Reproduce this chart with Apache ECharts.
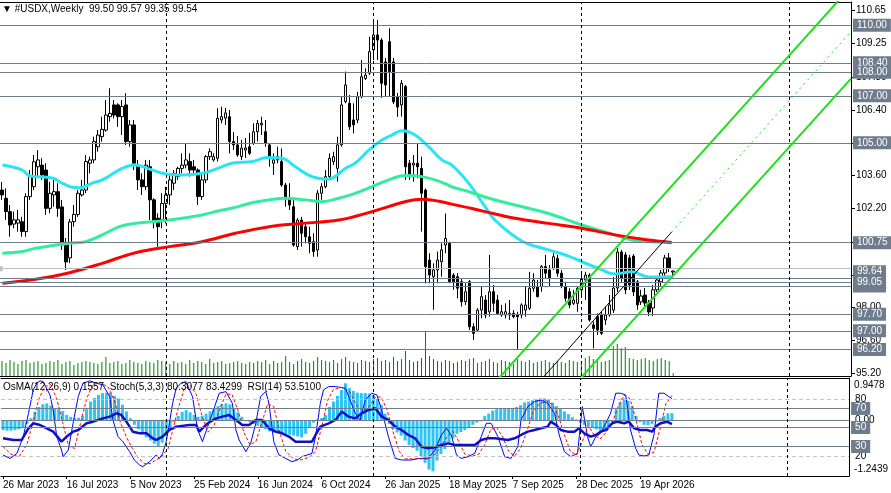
<!DOCTYPE html>
<html>
<head>
<meta charset="utf-8">
<title>#USDX Weekly</title>
<script src="https://cdn.jsdelivr.net/npm/echarts@6/dist/echarts.min.js"></script>
<style>
html, body { margin: 0; padding: 0; background: #fff; }
#chart { width: 891px; height: 493px; }
</style>
</head>
<body>
<div id="chart"></div>
<script>
// weekly bars, index 0 = week of 26 Mar 2023
const symbolName = '#USDX,Weekly';
const lastBar = ['99.50', '99.57', '99.35', '99.54'];
const oscTitle = 'OsMA(12,26,9) 0.1557  Stoch(5,3,3) 80.3077 83.4299  RSI(14) 53.5100';

const slotCount = 213; // bars + empty space on the right
const tickEvery = 16;
const tickLabels = ['26 Mar 2023', '16 Jul 2023', '5 Nov 2023', '25 Feb 2024', '16 Jun 2024',
  '6 Oct 2024', '26 Jan 2025', '18 May 2025', '7 Sep 2025', '28 Dec 2025', '19 Apr 2026'];
const yearStarts = [41, 93, 145, 197];

const priceTicks = [110.65, 109.25, 107.80, 106.40, 105.00, 103.60, 102.20, 100.75, 99.35, 98.00, 96.60, 95.20];
// horizontal levels, drawn back to front around the bid line
const levelsBack = [110.00, 108.40, 108.00, 107.00, 105.00, 100.75, 99.25, 98.90];
const levelsFront = [99.05, 97.70, 97.00, 96.20];
const bidPrice = 99.64;

// open, high, low, close
const ohlc = [
  [102.99,103.33,102.57,102.78],[102.64,103.06,101.72,102.07],[102.07,102.35,101.00,101.50],[101.54,102.07,101.36,101.72],
  [101.58,102.14,101.22,101.72],[101.64,101.85,101.00,101.22],[101.22,102.85,101.00,102.71],[102.71,103.84,102.57,103.56],
  [103.13,104.48,102.99,104.19],[103.98,104.69,103.56,104.27],[104.05,104.34,103.42,103.63],[103.84,104.13,101.93,102.21],
  [102.21,103.34,102.00,102.85],[102.78,103.42,102.28,102.92],[102.92,103.28,101.85,102.21],[102.27,102.57,100.44,100.65],
  [100.65,100.95,99.59,99.93],[100.10,101.76,99.88,101.63],[101.64,102.35,101.43,101.95],[101.95,102.99,101.85,102.85],
  [102.78,103.42,102.71,102.99],[102.99,104.48,102.85,104.20],[104.13,104.41,103.70,104.27],[104.27,105.26,104.13,105.05],
  [104.83,105.54,104.62,105.33],[105.26,106.11,105.05,105.57],[105.54,106.82,105.47,106.18],[106.11,107.32,105.90,106.25],
  [106.61,106.82,106.04,106.18],[106.61,106.68,105.68,106.11],[106.11,106.82,105.33,106.54],[106.61,107.11,104.91,105.05],
  [105.05,105.97,104.83,105.76],[105.76,105.97,103.84,104.13],[104.05,104.27,102.99,103.42],[103.42,103.70,102.78,103.13],
  [103.13,104.27,102.99,104.05],[103.98,104.27,101.72,102.57],[102.57,102.64,101.36,101.64],[101.79,102.00,100.58,101.43],
  [101.72,102.85,101.36,102.42],[102.42,103.13,101.57,102.78],[102.78,103.70,102.35,103.42],[103.28,103.84,102.99,103.70],
  [103.56,103.98,103.42,103.91],[103.91,104.55,103.70,104.05],[104.05,104.98,103.91,104.27],[104.20,104.55,103.56,103.84],
  [103.98,104.27,103.63,103.84],[103.84,103.91,102.35,102.71],[102.71,103.70,102.57,103.42],[103.42,104.48,103.28,104.41],
  [104.41,104.76,104.27,104.62],[104.27,104.55,104.20,104.41],[104.34,106.47,104.20,106.04],[105.97,106.54,105.83,106.11],
  [106.05,106.48,105.76,106.27],[106.11,106.40,104.55,105.05],[105.05,105.46,104.69,104.91],[104.91,105.29,104.40,104.48],
  [104.41,105.12,104.27,104.77],[104.69,105.20,104.35,104.78],[104.83,105.42,104.48,104.55],[104.98,105.83,104.91,105.47],
  [105.47,105.97,105.05,105.83],[105.76,106.11,105.33,105.83],[105.47,105.97,104.83,104.98],[104.91,104.98,103.98,104.41],
  [104.13,104.55,103.63,104.27],[104.41,104.83,104.13,104.27],[104.20,104.76,103.13,103.20],[103.20,103.29,102.28,102.65],
  [102.65,103.28,102.14,102.35],[102.28,102.57,100.58,100.65],[100.58,101.79,100.44,101.71],[101.71,101.85,100.58,101.15],
  [101.43,101.57,100.72,101.00],[101.00,101.43,100.30,100.72],[100.79,101.15,100.15,100.37],[100.44,102.99,100.15,102.85],
  [102.85,103.28,102.57,103.13],[103.13,103.84,103.06,103.56],[103.56,104.55,103.49,104.34],[104.20,104.62,104.05,104.41],
  [103.91,105.26,103.34,104.91],[104.91,106.96,104.83,106.61],[106.75,108.03,106.68,107.46],[106.68,107.03,105.54,105.68],
  [105.97,106.68,105.40,105.76],[105.97,107.17,105.83,106.96],[106.96,108.52,106.89,107.81],[107.74,108.17,107.67,107.88],
  [107.96,109.51,107.88,108.88],[108.95,110.15,108.52,109.59],[109.59,110.22,108.52,109.37],[109.37,109.45,106.91,107.53],
  [108.44,108.61,106.95,107.46],[109.30,109.87,106.96,108.03],[108.44,108.61,106.65,106.74],[106.95,107.12,106.10,106.52],
  [106.61,107.67,106.11,107.53],[107.39,107.46,103.42,103.98],[104.13,104.27,103.42,103.63],[104.05,104.48,103.34,104.13],
  [104.13,104.98,103.49,103.98],[103.91,104.41,101.22,102.85],[102.99,103.06,99.02,99.73],[100.01,100.30,99.02,99.37],
  [99.30,99.87,97.89,99.59],[99.59,100.37,99.02,100.01],[99.94,100.72,99.30,100.44],[100.65,101.99,100.30,100.93],
  [100.72,100.79,99.02,99.09],[99.37,99.45,98.74,99.09],[99.30,99.45,98.38,98.81],[99.09,99.23,98.03,98.24],
  [98.24,99.02,98.10,98.66],[99.09,99.16,97.03,97.17],[97.17,97.32,96.61,96.89],[97.03,97.96,96.96,97.88],
  [97.88,98.88,97.53,98.45],[98.31,98.52,97.53,97.67],[97.81,100.23,97.60,98.66],[98.66,98.95,97.81,98.17],
  [98.31,98.52,97.67,97.74],[97.67,98.10,97.60,97.81],[97.67,98.17,97.53,97.81],[97.67,98.31,97.46,97.74],
  [97.74,97.88,97.53,97.60],[97.67,97.81,96.18,97.60],[97.67,98.17,97.53,98.10],[97.88,98.88,97.60,98.10],
  [97.96,99.51,97.88,98.81],[98.81,99.45,98.66,99.16],[98.88,99.16,98.42,98.45],[98.88,99.80,98.66,99.73],
  [99.73,100.23,99.23,99.45],[99.59,99.80,98.88,99.23],[99.66,100.30,99.59,100.15],[100.08,100.23,99.30,99.45],
  [99.45,99.59,98.81,98.88],[98.88,99.09,98.24,98.38],[98.66,98.81,97.96,98.10],[98.17,98.74,98.10,98.31],
  [98.17,98.88,97.81,98.81],[98.74,99.45,98.52,99.23],[99.16,99.51,98.31,99.37],[99.37,99.45,97.39,97.46],
  [97.25,97.39,96.25,97.10],[97.60,97.74,96.82,97.03],[97.67,97.81,96.82,96.89],[97.46,98.03,97.25,97.67],
  [97.67,98.52,97.60,98.10],[97.88,99.29,97.76,98.82],[98.82,100.52,98.65,100.35],[100.35,100.44,99.08,99.25],
  [100.23,100.35,98.56,98.74],[100.10,100.23,98.74,98.95],[100.18,100.27,98.48,98.65],[99.08,99.16,97.89,98.10],
  [98.23,98.74,98.10,98.48],[98.52,98.82,98.05,98.18],[98.18,98.31,97.63,97.80],[97.97,98.95,97.63,98.74],
  [98.74,99.33,98.65,99.16],[99.08,99.59,98.91,99.46],[99.46,100.23,99.33,100.10],[100.10,100.31,99.50,99.67],
  [99.50,99.57,99.35,99.54]
];

const volume = [15,13,16,14,12,15,16,13,14,15,12,13,15,14,16,12,14,15,11,13,14,
  15,14,13,12,14,19,13,14,15,12,13,16,14,13,12,15,14,13,16,15,
  14,12,15,13,14,12,16,13,15,14,12,17,13,14,15,12,13,14,15,13,
  12,14,13,15,14,16,12,15,13,14,20,14,12,15,17,14,13,15,19,16,
  15,14,16,13,17,19,15,14,13,16,15,14,17,18,15,16,14,19,15,17,
  25,16,14,15,18,45,20,17,15,14,16,15,13,14,16,15,17,18,13,14,
  15,17,14,13,16,15,14,12,17,15,14,16,13,14,15,16,14,13,15,14,
  13,16,15,14,15,18,20,17,15,14,
  15,16,30,32,28,29,18,17,16,17,18,16,15,17,18,16,15,3];

// moving averages: [bar, price]
const maFast = [[0.1,104.05],[5.1,103.84],[6.9,103.59],[12.6,103.50],[14.4,103.34],[17.6,103.11],[19.4,103.09],
  [22.6,103.28],[25.1,103.42],[30.1,103.91],[33.4,104.05],[36.4,103.91],[40.1,103.70],[41.9,103.66],[45.1,103.63],
  [50.1,103.70],[53.4,103.87],[57.6,104.13],[62.6,104.20],[66.4,104.37],[70.1,104.34],[73.4,103.98],[77.6,103.56],
  [81.8,103.45],[83.9,103.63],[85.9,103.91],[88.4,104.13],[91.8,104.69],[95.1,105.12],[97.6,105.33],[100.1,105.51],
  [103.4,105.33],[106.8,104.83],[110.1,104.27],[112.6,104.05],[116.8,103.28],[120.9,102.28],[123.4,101.71],
  [130.1,100.82],[136.8,100.44],[141.8,100.18],[145.1,99.94],[149.3,99.66],[153.4,99.42],[157.6,99.51],
  [161.8,99.29],[167.6,99.30]];
const maMid = [[0.1,100.30],[5.1,100.37],[8.4,100.51],[16.9,100.72],[20.9,100.79],[25.1,101.08],[29.4,101.43],
  [33.4,101.57],[37.6,101.64],[41.9,101.71],[45.9,101.81],[50.1,101.93],[54.4,102.11],[58.4,102.25],[62.6,102.45],
  [66.9,102.57],[70.9,102.64],[75.9,102.57],[80.1,102.49],[84.3,102.64],[88.4,102.85],[92.6,103.13],[96.8,103.42],
  [100.9,103.61],[105.1,103.56],[109.3,103.37],[112.6,103.13],[116.8,102.92],[120.9,102.69],[125.1,102.49],
  [128.4,102.35],[136.8,101.99],[145.1,101.50],[153.4,101.08],[157.6,100.86],[161.8,100.79],[167.6,100.75]];
const maSlow = [[0.1,99.02],[8.4,99.19],[16.9,99.47],[25.1,99.87],[33.4,100.32],[41.9,100.58],[50.1,100.79],
  [58.4,101.15],[66.9,101.43],[75.1,101.57],[84.3,101.71],[92.6,102.07],[100.9,102.49],[105.1,102.60],
  [112.6,102.39],[120.9,102.07],[128.4,101.79],[136.8,101.57],[145.1,101.36],[153.4,101.08],[161.8,100.86],
  [167.6,100.76]];

// channel drawn on the chart
const channelUpper = [[120, 94.16], [212.5, 111.64]];
const channelLower = [[140, 94.07], [212.5, 107.73]];
const channelBase = [[133, 94.54], [167.6, 101.20]];
const channelRay = [[167.6, 101.20], [212.5, 109.73]];

const osma = [-0.22,-0.23,-0.23,-0.22,-0.20,-0.15,-0.08,
  0.05,0.19,0.30,0.36,0.38,0.33,0.27,0.25,0.21,
  0.12,0.08,0.05,0.06,0.10,
  0.25,0.42,0.50,0.57,0.61,0.62,0.62,0.55,0.49,0.35,0.20,
  0.05,-0.10,-0.20,-0.30,-0.38,-0.45,-0.52,-0.57,-0.50,-0.35,-0.20,
  -0.04,0.10,0.19,0.23,0.18,0.12,0.08,0.10,0.15,0.20,0.27,0.32,0.36,0.38,0.36,0.27,0.18,0.08,
  -0.02,-0.04,-0.08,-0.12,-0.15,-0.20,-0.25,-0.27,-0.29,-0.30,-0.31,-0.32,-0.34,-0.36,-0.38,
  -0.30,-0.15,-0.05,0.02,0.05,
  0.12,0.30,0.42,0.55,0.68,0.83,0.72,0.66,0.62,0.61,0.61,0.60,0.57,0.48,0.35,0.15,
  -0.08,-0.20,-0.27,-0.34,-0.45,-0.55,-0.62,-0.68,-0.80,-0.95,-1.10,-1.14,-0.90,-0.75,-0.64,-0.50,-0.40,-0.30,-0.26,-0.22,-0.15,-0.10,-0.05,-0.02,
  0.10,0.15,0.22,0.25,0.27,0.27,0.27,0.28,0.30,0.34,0.40,0.42,0.45,0.47,0.49,0.49,0.47,0.40,0.32,0.27,0.20,0.14,0.07,0.02,
  -0.06,-0.10,-0.12,-0.17,-0.20,-0.23,-0.22,-0.15,-0.04,
  0.25,0.40,0.49,0.44,0.32,0.10,-0.04,-0.10,-0.11,-0.08,-0.03,0.05,0.10,0.16,0.16];

const stochMain = [[0,21],[1.8,17.5],[3.5,22.8],[5.1,40.4],[6.4,64.9],[7.6,89.5],[8.5,96.5],[9.3,99],[10.1,98.2],
  [11.8,84.2],[12.6,68.4],[13.5,40.4],[14.7,26.3],[15.1,19.3],[16.4,26.3],[17.6,54.4],[18.9,82.5],[20.1,96.5],
  [21.8,99],[23.5,96.5],[25.1,94.7],[26.8,82.5],[27.6,57.9],[28.9,40.4],[30.1,35.1],[31.8,24.6],[33,15.8],
  [34.3,10.5],[35.1,8.8],[36.8,14],[38.5,21.1],[39.3,17.5],[40.1,22.8],[41,35.1],[41.8,54.4],[42.6,75.4],
  [43.5,91.2],[44.7,96.5],[45.9,98.2],[47.6,82.5],[48.9,47.4],[50.1,35.1],[51.4,50.9],[52.6,64.9],[54.3,86],
  [56,87.7],[57.6,75.4],[58.5,47.4],[59.3,36.9],[61,24.6],[62.2,33.3],[63.5,54.4],[64.7,82.5],[66,87.7],
  [66.8,75.4],[68,35.1],[69.3,21.1],[71,17.5],[72.6,14],[73.9,15.8],[75.1,19.3],[76.4,21.1],[77.6,22.8],
  [78.5,40.4],[79.7,75.4],[80.5,89.5],[81.8,93],[83.5,93],[86,91.2],[88.5,64.9],[89.7,57.9],[91,79],[92.6,86],
  [93.9,84.2],[95.1,68.4],[96.8,40.4],[98.5,17.5],[100.1,15.8],[102.6,15.8],[104.3,17.5],[106.8,17.5],
  [108.5,26.3],[110.1,42.1],[111.4,49.1],[112.6,42.1],[113.9,21.1],[115.1,17.5],[116.8,19.3],[118.5,22.8],
  [120.1,40.4],[121.4,54.4],[122.6,54.4],[124.3,40.4],[126,19.3],[127.6,17.5],[129.3,29.8],[130.1,57.9],
  [131.8,71.9],[133.5,77.2],[135.1,79],[136.8,75.4],[138.5,64.9],[139.7,42.1],[141,24.6],[142.6,19.3],
  [144.3,22.8],[145.5,71.9],[146.8,40.4],[147.6,29.8],[148.9,40.4],[150.1,43.9],[151.4,54.4],[152.6,64.9],
  [153.9,86],[155.1,86],[156.4,84.2],[157.6,47.4],[158.9,28.1],[159.7,21.1],[161,20],[162.2,21.1],[163.5,42.1],
  [164.7,86],[166,86],[167.2,82.5],[168,80.3]];
const stochSignal = [[0,30],[2,22],[4,19],[6,32],[7.5,55],[9,80],[10.5,93],[12,95],[13.5,80],[15,55],[16.5,30],
  [18,28],[19.5,55],[21,80],[22.5,95],[24.5,97],[26.5,92],[28,78],[29.5,55],[31,40],[32.5,28],[34,18],[35.5,12],
  [37,12],[38.5,16],[40,20],[41.5,28],[42.5,45],[44,70],[45.5,90],[47,95],[48.5,85],[50,62],[51.5,45],[53,52],
  [54.5,70],[56,85],[57.5,85],[59,68],[60.5,45],[62,32],[63.5,35],[65,55],[66.5,75],[68,72],[69.5,45],[71,25],
  [73,17],[75,16],[77,19],[78.5,25],[80,50],[81.5,78],[83,90],[85,92],[87,88],[89,72],[90.5,68],[92,72],
  [93.5,82],[95,82],[96.5,68],[98,45],[99.5,25],[101,17],[104,17],[107,17],[108.5,22],[110,30],[111.5,40],
  [113,46],[114.5,35],[116,22],[118,20],[119.5,22],[121,32],[122.5,48],[124,50],[125.5,40],[127,25],[128.5,20],
  [130,28],[131.5,45],[133,65],[134.5,74],[136.5,78],[138,74],[139.5,62],[141,42],[142.5,25],[144,21],
  [145.5,35],[147,52],[148.5,42],[150,38],[151.5,45],[153,55],[154.5,72],[156,84],[157.5,80],[159,58],
  [160.5,32],[162,22],[163.5,24],[165,48],[166.5,75],[168,83.4]];
const rsi = [[0,38.6],[2.6,36.9],[4.7,36.9],[6.4,49.1],[7.6,54.4],[9.3,52.6],[11,49.1],[12.6,45.6],[14.7,35.1],
  [16,40.4],[17.6,45.6],[18.9,47.4],[21,54.4],[22.6,56.1],[25.1,59.6],[26.8,61.4],[28.5,64.9],[29.7,63.2],
  [31,56.1],[32.6,45.6],[34.3,43.9],[36,43.9],[37.6,38.6],[38.5,36.9],[40.1,40.4],[41.8,47.4],[43.5,50.9],
  [46.8,52.6],[48.5,52.6],[49.3,45.6],[50.1,49.1],[51.4,54.4],[53.5,59.6],[55.1,61.4],[56.8,63.2],[58.5,57.9],
  [60.1,52.6],[61.8,52.6],[63.5,57.9],[65.1,57.9],[66.8,49.1],[68.5,45.6],[70.1,43.9],[71.8,40.4],[73.5,35.1],
  [75.1,35.1],[77.6,35.1],[78.5,42.1],[79.7,50.9],[81.8,54.4],[83.5,57.9],[85.1,66.7],[86.8,61.4],[88.5,59.6],
  [90.1,64.9],[91.8,68.4],[93.5,70.2],[95.1,61.4],[96.8,57.9],[98.5,50.9],[100.1,47.4],[101.8,42.1],
  [103.5,38.6],[105.1,29.8],[106.8,28.1],[108.5,29.1],[110.1,31.6],[111.8,33.3],[113.5,31.6],[116.8,31.6],
  [118.5,31.6],[120.1,36.9],[121.8,38.6],[123.5,38.6],[126.8,36.9],[128.5,38.6],[130.1,42.1],[131.8,45.6],
  [133.5,47.4],[135.1,49.1],[136.8,50.9],[137.6,56.1],[138.9,52.6],[140.1,47.4],[141.8,45.6],[143.5,45.6],
  [144.7,49.1],[146,43.9],[147.6,40.4],[148.9,42.1],[150.1,45.6],[151.4,47.4],[153,54.4],[154.3,56.1],
  [156,54.4],[157.2,56.1],[158.5,49.1],[160.1,47.4],[161.8,47.4],[163,45.6],[163.9,50.9],[165.1,54.4],
  [166.8,56.1],[168,53.5]];

const stochLevels = [80, 20];
const rsiLevels = [70, 50, 30];
const osmaRange = [-1.2439, 0.9478];

const FONT = 'Liberation Sans, Arial, sans-serif';
const SLATE = '#6E7C8B';
const slots = Array.from({ length: slotCount }, (_, i) => String(i));

const chart = echarts.init(document.getElementById('chart'));

function boxLabel(text, dy) {
  return {
    show: true, position: 'end', distance: 2, formatter: text, offset: [0, dy || 0],
    color: '#fff', backgroundColor: SLATE, padding: [2, 4, 1, 4],
    fontSize: 10, fontFamily: FONT
  };
}
function levelMark(v) {
  return { yAxis: v, lineStyle: { color: SLATE, width: 1, type: 'solid' }, label: boxLabel(v.toFixed(2)) };
}

const levelMarks = levelsBack.map(levelMark);
levelMarks.push({
  yAxis: bidPrice, symbol: ['none', 'rect'], symbolSize: 5,
  lineStyle: { color: '#BDBDBD', width: 1, type: 'solid' }, label: boxLabel(bidPrice.toFixed(2), 3)
});
levelsFront.forEach(v => levelMarks.push(levelMark(v)));

const sepMain = yearStarts.map(v => ({ xAxis: v, lineStyle: { color: '#000', width: 1, type: [3, 3] }, label: { show: false } }));
const sepSub = yearStarts.map(v => ({ xAxis: v, lineStyle: { color: '#000', width: 1, type: [3, 3] }, label: { show: false } }));

const oscMarks = [];
stochLevels.forEach(v => oscMarks.push({
  yAxis: v, lineStyle: { color: '#C4C4C4', width: 1, type: [4, 3] },
  label: { show: true, position: 'end', distance: 6, formatter: String(v), color: '#000', fontSize: 10, fontFamily: FONT }
}));
rsiLevels.forEach(v => oscMarks.push({
  yAxis: v, lineStyle: { color: SLATE, width: 1, type: 'solid' }, label: boxLabel(String(v))
}));

const frameLine = { show: true, onZero: false, lineStyle: { color: '#000', width: 1 } };

const option = {
  animation: false,
  backgroundColor: '#fff',
  textStyle: { fontFamily: FONT },
  title: [
    { text: '\u25BC ' + symbolName + '  ' + lastBar.join(' '), left: 2, top: 4, padding: 0,
      textStyle: { fontSize: 10, fontWeight: 'normal', color: '#000', fontFamily: FONT } },
    { text: oscTitle, left: 3, top: 382, padding: 0,
      textStyle: { fontSize: 10, fontWeight: 'normal', color: '#000', fontFamily: FONT } }
  ],
  grid: [
    { left: -2.5, right: 40, top: 2, bottom: 117 },
    { left: -2.5, right: 40, top: 330, bottom: 117 },
    { left: -2.5, right: 40, top: 378, bottom: 17 }
  ],
  xAxis: [
    { type: 'category', gridIndex: 0, data: slots, boundaryGap: true, position: 'top',
      axisLine: frameLine, axisTick: { show: false }, axisLabel: { show: false }, splitLine: { show: false } },
    { type: 'category', gridIndex: 1, data: slots, boundaryGap: true, position: 'bottom',
      axisLine: frameLine, axisTick: { show: false }, axisLabel: { show: false }, splitLine: { show: false } },
    { type: 'category', gridIndex: 2, data: slots, boundaryGap: true, position: 'bottom',
      axisLine: frameLine,
      axisTick: { show: true, length: 3, alignWithLabel: true, lineStyle: { color: '#000' },
        interval: i => i % tickEvery === 0 && i / tickEvery < tickLabels.length },
      axisLabel: { show: true, align: 'left', margin: 4, fontSize: 10, color: '#000', fontFamily: FONT,
        interval: i => i % tickEvery === 0 && i / tickEvery < tickLabels.length,
        formatter: (v, i) => tickLabels[i / tickEvery] || '' } },
    { type: 'value', gridIndex: 0, min: -0.5, max: slotCount - 0.5, show: false },
    { type: 'value', gridIndex: 2, min: -0.5, max: slotCount - 0.5, position: 'top',
      axisLine: frameLine, axisTick: { show: false }, axisLabel: { show: false }, splitLine: { show: false } }
  ],
  yAxis: [
    { type: 'value', gridIndex: 0, position: 'right', min: 95.0755, max: 110.99,
      splitLine: { show: false },
      axisLine: { show: true, onZero: false, lineStyle: { color: '#000' } },
      axisTick: { show: true, length: 4, customValues: priceTicks, lineStyle: { color: '#000' } },
      axisLabel: { show: true, margin: 5, customValues: priceTicks, color: '#000', fontSize: 10, fontFamily: FONT,
        formatter: v => v.toFixed(2) } },
    { type: 'value', gridIndex: 1, min: 0, max: 46, show: false },
    { type: 'value', gridIndex: 2, min: -1, max: 102, show: false },
    { type: 'value', gridIndex: 2, position: 'right', min: osmaRange[0], max: osmaRange[1],
      splitLine: { show: false },
      axisLine: { show: true, onZero: false, lineStyle: { color: '#000' } },
      axisTick: { show: false },
      axisLabel: { show: true, margin: 5, customValues: [osmaRange[1], osmaRange[0]], color: '#000', fontSize: 10,
        fontFamily: FONT,
        formatter: v => v > 0 ? '{t|' + v.toFixed(4) + '}' : '{b|' + v.toFixed(4) + '}',
        rich: { t: { padding: [14, 0, 0, 0], fontSize: 10, color: '#000' },
                b: { padding: [0, 0, 14, 0], fontSize: 10, color: '#000' } } } }
  ],
  series: [
    { name: 'levels', type: 'line', xAxisIndex: 3, yAxisIndex: 0, data: [], z: 1,
      markLine: { silent: true, symbol: 'none', animation: false, data: levelMarks.concat(sepMain) } },
    { name: 'volume', type: 'bar', xAxisIndex: 1, yAxisIndex: 1, data: volume, barWidth: 1, z: 2,
      itemStyle: { color: '#008000' } },
    { name: 'USDX', type: 'candlestick', xAxisIndex: 0, yAxisIndex: 0, z: 3, barWidth: 3,
      data: ohlc.map(b => [b[0], b[3], b[2], b[1]]),
      itemStyle: { color: '#fff', color0: '#000', borderColor: '#000', borderColor0: '#000',
        borderColorDoji: '#000', borderWidth: 1 } },
    { name: 'ma fast', type: 'line', xAxisIndex: 3, yAxisIndex: 0, data: maFast, smooth: 0.4, symbol: 'none', z: 4,
      lineStyle: { color: '#2BE4F2', width: 3 } },
    { name: 'ma mid', type: 'line', xAxisIndex: 3, yAxisIndex: 0, data: maMid, smooth: 0.4, symbol: 'none', z: 4,
      lineStyle: { color: '#33EC9E', width: 3 } },
    { name: 'ma slow', type: 'line', xAxisIndex: 3, yAxisIndex: 0, data: maSlow, smooth: 0.4, symbol: 'none', z: 4,
      lineStyle: { color: '#FF0000', width: 3 } },
    { name: 'channel up', type: 'line', xAxisIndex: 3, yAxisIndex: 0, data: channelUpper, symbol: 'none', z: 5,
      lineStyle: { color: '#1EE01E', width: 2 } },
    { name: 'channel low', type: 'line', xAxisIndex: 3, yAxisIndex: 0, data: channelLower, symbol: 'none', z: 5,
      lineStyle: { color: '#1EE01E', width: 2 } },
    { name: 'channel base', type: 'line', xAxisIndex: 3, yAxisIndex: 0, data: channelBase, symbol: 'none', z: 5,
      lineStyle: { color: '#000', width: 1 } },
    { name: 'channel ray', type: 'line', xAxisIndex: 3, yAxisIndex: 0, data: channelRay, symbol: 'none', z: 5,
      lineStyle: { color: '#1EE01E', width: 1, type: [2, 4] } },

    { name: 'OsMA', type: 'bar', xAxisIndex: 2, yAxisIndex: 3, data: osma, barWidth: 3, z: 2,
      itemStyle: { color: '#2DC3F3' },
      markLine: { silent: true, symbol: 'none', animation: false, data: [
        { yAxis: 0, lineStyle: { color: SLATE, width: 1, type: 'solid' },
          label: { show: true, position: 'end', distance: 6, formatter: '0.00', color: '#000', fontSize: 10, fontFamily: FONT } }
      ] } },
    { name: 'Stoch', type: 'line', xAxisIndex: 4, yAxisIndex: 2, data: stochMain, symbol: 'none', z: 3,
      lineStyle: { color: '#0000FF', width: 1 },
      markLine: { silent: true, symbol: 'none', animation: false, data: oscMarks.concat(sepSub) } },
    { name: 'Signal', type: 'line', xAxisIndex: 4, yAxisIndex: 2, data: stochSignal, symbol: 'none', z: 3,
      lineStyle: { color: '#FF0000', width: 1, type: [3, 2] } },
    { name: 'RSI', type: 'line', xAxisIndex: 4, yAxisIndex: 2, data: rsi, symbol: 'none', z: 4,
      lineStyle: { color: '#1010C8', width: 2.5 } }
  ]
};

chart.setOption(option);
</script>
</body>
</html>
